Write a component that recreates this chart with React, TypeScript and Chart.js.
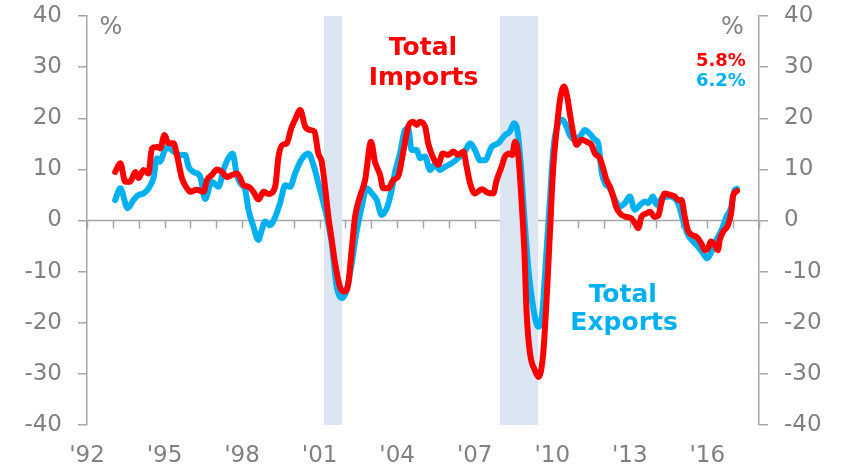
import React, { useEffect, useRef } from "react";
import { Chart, registerables } from "chart.js";

Chart.register(...registerables);

// ---------- DATA ----------
const importDates = [
  1993.09, 1993.29, 1993.48, 1993.67, 1993.87, 1993.99, 1994.19, 1994.38, 1994.51, 1994.71,
  1994.83, 1995.0, 1995.15, 1995.35, 1995.48, 1995.67, 1995.87, 1995.99, 1996.25, 1996.51,
  1996.64, 1996.83, 1997.03, 1997.22, 1997.41, 1997.61, 1997.8, 1997.93, 1998.05, 1998.25,
  1998.44, 1998.63, 1998.83, 1999.02, 1999.28, 1999.41, 1999.56, 1999.73, 1999.9, 2000.05,
  2000.25, 2000.44, 2000.63, 2000.8, 2000.95, 2001.08, 2001.21, 2001.34, 2001.47, 2001.6,
  2001.79, 2001.95, 2002.11, 2002.24, 2002.37, 2002.56, 2002.76, 2002.99, 2003.14, 2003.34,
  2003.46, 2003.66, 2003.85, 2004.04, 2004.24, 2004.43, 2004.62, 2004.76, 2004.88, 2005.08,
  2005.2, 2005.4, 2005.59, 2005.76, 2005.98, 2006.17, 2006.36, 2006.56, 2006.69, 2006.82,
  2007.01, 2007.27, 2007.52, 2007.72, 2007.85, 2008.04, 2008.17, 2008.36, 2008.45, 2008.56,
  2008.68, 2008.81, 2008.92, 2009.01, 2009.14, 2009.33, 2009.48, 2009.65, 2009.78, 2009.91,
  2010.04, 2010.17, 2010.3, 2010.45, 2010.58, 2010.68, 2010.84, 2010.94, 2011.13, 2011.33,
  2011.52, 2011.65, 2011.84, 2011.97, 2012.1, 2012.23, 2012.36, 2012.49, 2012.68, 2012.87,
  2013.07, 2013.23, 2013.33, 2013.45, 2013.65, 2013.78, 2013.97, 2014.1, 2014.23, 2014.35,
  2014.55, 2014.74, 2014.87, 2015.0, 2015.13, 2015.25, 2015.39, 2015.58, 2015.77, 2015.9,
  2016.03, 2016.13, 2016.29, 2016.41, 2016.48, 2016.61, 2016.8, 2016.93, 2016.99, 2017.15,
];
const importValues = [
  9.5, 11.2, 7.6, 7.6, 9.5, 8.3, 9.9, 9.2, 14.1, 14.4,
  14.1, 16.7, 15.1, 15.1, 12.8, 8.3, 6.3, 5.6, 6.0, 5.6,
  7.9, 8.9, 10.0, 9.5, 8.5, 8.9, 9.2, 8.3, 6.9, 6.6,
  5.6, 4.1, 5.6, 5.2, 6.6, 12.5, 14.8, 15.1, 18.0, 19.7,
  21.6, 18.4, 17.7, 17.4, 13.1, 11.5, 6.6, 0.7, -3.8, -8.4,
  -13.0, -13.9, -12.3, -5.8, 0.7, 4.7, 7.9, 15.4, 11.5, 8.9,
  6.3, 6.3, 7.9, 8.6, 13.5, 18.4, 19.3, 18.7, 19.3, 18.4,
  15.1, 12.2, 10.9, 13.1, 12.8, 13.5, 12.8, 13.5, 10.5, 7.3,
  5.3, 6.1, 5.4, 5.3, 7.9, 10.5, 12.5, 13.1, 12.8, 15.4,
  13.1, 4.0, -5.8, -18.2, -26.0, -29.3, -30.6, -26.0, -15.6, -2.5,
  10.5, 17.7, 23.6, 26.2, 24.2, 21.0, 16.4, 14.8, 15.8, 15.4,
  14.8, 13.1, 12.2, 10.2, 7.9, 6.6, 4.7, 2.4, 1.1, 0.7,
  0.4, -0.8, -1.5, 0.7, 1.4, 1.7, 0.7, 0.9, 3.7, 5.3,
  5.0, 4.7, 4.0, 4.0, 0.7, -1.9, -2.8, -3.2, -4.5, -5.8,
  -5.4, -4.1, -4.8, -5.8, -3.8, -2.2, -0.9, 1.7, 4.7, 5.8,
];

const exportDates = [
  1993.09, 1993.29, 1993.57, 1993.8, 1993.99, 1994.19, 1994.38, 1994.57, 1994.71, 1994.83,
  1994.96, 1995.09, 1995.35, 1995.61, 1995.8, 1995.93, 1996.12, 1996.38, 1996.57, 1996.83,
  1997.09, 1997.28, 1997.47, 1997.63, 1997.8, 1997.93, 1998.12, 1998.25, 1998.44, 1998.63,
  1998.76, 1998.89, 1999.09, 1999.28, 1999.47, 1999.67, 1999.86, 2000.05, 2000.25, 2000.44,
  2000.57, 2000.76, 2000.95, 2001.15, 2001.28, 2001.47, 2001.66, 2001.86, 2002.05, 2002.24,
  2002.44, 2002.63, 2002.82, 2003.02, 2003.21, 2003.4, 2003.6, 2003.79, 2003.92, 2004.11,
  2004.3, 2004.43, 2004.56, 2004.76, 2004.88, 2005.08, 2005.27, 2005.46, 2005.66, 2005.85,
  2006.11, 2006.36, 2006.62, 2006.82, 2007.01, 2007.2, 2007.4, 2007.66, 2007.91, 2008.17,
  2008.36, 2008.52, 2008.66, 2008.79, 2008.92, 2009.07, 2009.26, 2009.46, 2009.61, 2009.78,
  2009.91, 2010.04, 2010.23, 2010.4, 2010.55, 2010.68, 2010.87, 2011.07, 2011.26, 2011.43,
  2011.65, 2011.78, 2011.91, 2012.04, 2012.23, 2012.43, 2012.62, 2012.81, 2013.0, 2013.19,
  2013.39, 2013.58, 2013.71, 2013.9, 2014.03, 2014.23, 2014.55, 2014.87, 2015.06, 2015.25,
  2015.45, 2015.64, 2015.83, 2015.99, 2016.16, 2016.35, 2016.55, 2016.74, 2016.93, 2017.06,
  2017.15,
];
const exportValues = [
  4.0, 6.3, 2.4, 4.0, 5.0, 5.3, 6.3, 8.3, 12.2, 11.5,
  13.1, 14.4, 13.5, 12.8, 12.8, 10.5, 9.5, 8.6, 4.2, 7.6,
  6.6, 9.9, 12.2, 13.1, 8.9, 7.3, 6.0, 2.1, -1.2, -3.8,
  -1.9, -0.2, -0.9, 0.7, 3.4, 6.9, 6.6, 9.2, 11.5, 12.8,
  13.1, 10.9, 7.3, 3.4, 0.7, -4.5, -13.0, -15.2, -13.6, -8.4,
  -1.9, 2.7, 6.3, 5.3, 4.0, 1.1, 2.4, 6.0, 9.5, 13.1,
  17.7, 18.0, 13.8, 13.8, 12.2, 12.5, 9.9, 10.9, 9.9, 10.5,
  11.2, 12.2, 13.5, 15.1, 13.8, 11.8, 11.8, 14.4, 15.1, 16.7,
  17.4, 19.0, 17.4, 10.5, 0.7, -9.0, -16.9, -20.8, -18.2, -5.8,
  4.0, 13.8, 19.0, 19.7, 18.4, 16.7, 15.8, 16.4, 17.7, 17.1,
  15.8, 15.1, 9.5, 7.3, 6.3, 4.0, 2.7, 3.4, 4.7, 2.1,
  3.0, 3.7, 3.4, 4.7, 3.1, 4.3, 4.7, 3.4, 0.1, -2.8,
  -4.1, -5.1, -6.4, -7.4, -6.1, -3.8, -1.9, 0.7, 2.7, 6.0,
  6.2,
];

const yTickValues = [-40, -30, -20, -10, 0, 10, 20, 30, 40];
const xLabelYears = [1992, 1995, 1998, 2001, 2004, 2007, 2010, 2013, 2016];
const xRange = [1992, 2018];
const recessionStarts = [2001.17, 2007.98];
const recessionEnds = [2001.87, 2009.45];
const latestImports = "5.8%";
const latestExports = "6.2%";

// ---------- STYLE ----------
const FONT = "'DejaVu Sans', Verdana, sans-serif";
const TEXT_GRAY = "#808080";
const AXIS_GRAY = "#A6A6A6";
const RED = "#FF0000";
const BLUE = "#00B0F0";
const SHADE = "#DCE6F2";

type Note = { text: string; x: number; y: number; color: string; size: number; bold: boolean; align: CanvasTextAlign };
const notes: Note[] = [
  { text: "Total", x: 2005.0, y: 32.4, color: RED, size: 25, bold: true, align: "center" },
  { text: "Imports", x: 2005.02, y: 26.5, color: RED, size: 25, bold: true, align: "center" },
  { text: "Total", x: 2012.73, y: -15.9, color: BLUE, size: 25, bold: true, align: "center" },
  { text: "Exports", x: 2012.78, y: -21.4, color: BLUE, size: 25, bold: true, align: "center" },
  { text: latestImports, x: 2017.49, y: 30.3, color: RED, size: 18, bold: true, align: "right" },
  { text: latestExports, x: 2017.49, y: 26.3, color: BLUE, size: 18, bold: true, align: "right" },
  { text: "%", x: 1992.48, y: 36.5, color: TEXT_GRAY, size: 24, bold: false, align: "left" },
  { text: "%", x: 2017.41, y: 36.5, color: TEXT_GRAY, size: 24, bold: false, align: "right" },
];

const overlayPlugin = {
  id: "overlay",
  beforeDatasetsDraw(chart: any) {
    const { ctx, chartArea, scales } = chart;
    const xs = scales.x;
    const ys = scales.y;
    const y0 = ys.getPixelForValue(0);
    ctx.save();
    // zero axis line with yearly tick marks
    ctx.strokeStyle = AXIS_GRAY;
    ctx.lineWidth = 1.5;
    ctx.beginPath();
    ctx.moveTo(chartArea.left, y0);
    ctx.lineTo(chartArea.right, y0);
    for (let yr = xRange[0]; yr <= xRange[1]; yr++) {
      const px = Math.round(xs.getPixelForValue(yr)) + 0.5;
      ctx.moveTo(px, y0);
      ctx.lineTo(px, y0 + 8);
    }
    ctx.stroke();
    // recession shading
    ctx.fillStyle = SHADE;
    recessionStarts.forEach((s, i) => {
      const a = xs.getPixelForValue(s);
      const b = xs.getPixelForValue(recessionEnds[i]);
      ctx.fillRect(a, chartArea.top, b - a, chartArea.bottom - chartArea.top);
    });
    ctx.restore();
  },
  afterDraw(chart: any) {
    const { ctx, scales } = chart;
    ctx.save();
    ctx.textBaseline = "alphabetic";
    for (const n of notes) {
      ctx.font = `${n.bold ? "bold " : ""}${n.size}px ${FONT}`;
      ctx.fillStyle = n.color;
      ctx.textAlign = n.align;
      ctx.fillText(n.text, scales.x.getPixelForValue(n.x), scales.y.getPixelForValue(n.y));
    }
    ctx.restore();
  },
};

function yAxis(position: "left" | "right") {
  return {
    type: "linear" as const,
    position,
    min: -40,
    max: 40,
    afterBuildTicks: (s: any) => {
      s.ticks = yTickValues.map((v) => ({ value: v }));
    },
    afterFit: (s: any) => {
      s.width = 87;
      s.paddingTop = 0;
      s.paddingBottom = 0;
    },
    ticks: {
      color: TEXT_GRAY,
      font: { family: FONT, size: 23 },
      padding: 16,
    },
    grid: {
      drawOnChartArea: false,
      drawTicks: true,
      tickLength: 9,
      color: AXIS_GRAY,
      lineWidth: 1.5,
    },
    border: { display: true, color: AXIS_GRAY, width: 1.5 },
  };
}

export default function App() {
  const canvasRef = useRef<HTMLCanvasElement | null>(null);

  useEffect(() => {
    if (!canvasRef.current) return;
    const chart = new Chart(canvasRef.current, {
      type: "line",
      data: {
        datasets: [
          {
            label: "Total Imports",
            data: importDates.map((d, i) => ({ x: d, y: importValues[i] })),
            borderColor: RED,
            borderWidth: 6,
            pointRadius: 0,
            cubicInterpolationMode: "monotone",
            borderCapStyle: "round",
            borderJoinStyle: "round",
            yAxisID: "y",
          },
          {
            label: "Total Exports",
            data: exportDates.map((d, i) => ({ x: d, y: exportValues[i] })),
            borderColor: BLUE,
            borderWidth: 6,
            pointRadius: 0,
            cubicInterpolationMode: "monotone",
            borderCapStyle: "round",
            borderJoinStyle: "round",
            yAxisID: "y",
          },
        ],
      },
      options: {
        animation: false,
        responsive: false,
        maintainAspectRatio: false,
        layout: { padding: { top: 16, left: 0, right: 0, bottom: 0 } },
        plugins: { legend: { display: false }, tooltip: { enabled: false } },
        scales: {
          x: {
            type: "linear",
            position: "bottom",
            min: xRange[0],
            max: xRange[1],
            afterBuildTicks: (s: any) => {
              s.ticks = xLabelYears.map((v) => ({ value: v }));
            },
            afterFit: (s: any) => {
              s.height = 48;
              s.paddingLeft = 0;
              s.paddingRight = 0;
            },
            ticks: {
              color: TEXT_GRAY,
              font: { family: FONT, size: 23 },
              padding: 17,
              maxRotation: 0,
              autoSkip: false,
              callback: (v: any) => "'" + String(v).slice(2),
            },
            grid: { display: false, drawTicks: false },
            border: { display: false },
          },
          y: yAxis("left"),
          y2: yAxis("right"),
        },
      },
      plugins: [overlayPlugin],
    } as any);
    return () => chart.destroy();
  }, []);

  return (
    <div style={{ position: "absolute", left: 0, top: 0, width: 846, height: 473, background: "#fff" }}>
      <canvas ref={canvasRef} width={846} height={473} style={{ width: 846, height: 473 }} />
    </div>
  );
}
